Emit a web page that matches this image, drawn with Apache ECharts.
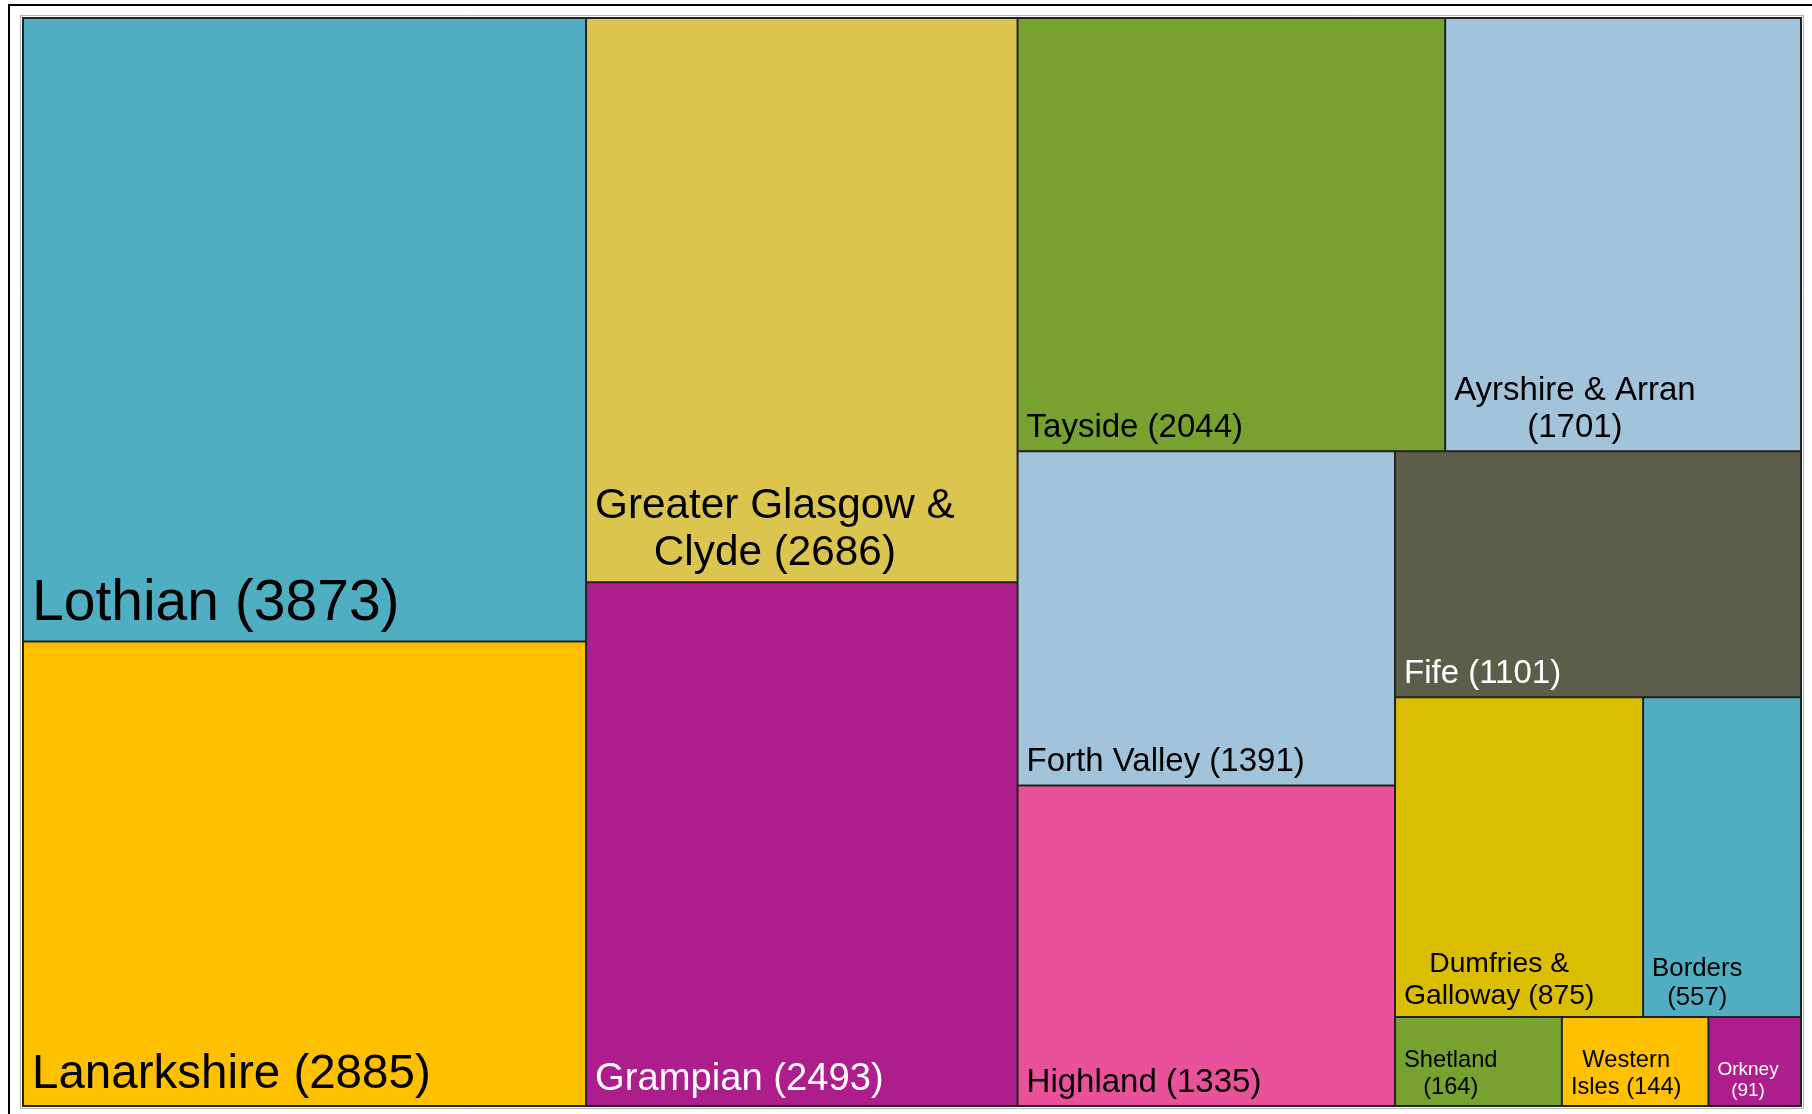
<!DOCTYPE html>
<html>
<head>
<meta charset="utf-8">
<title>Scottish health boards treemap</title>
<script src="https://cdn.jsdelivr.net/npm/echarts@6/dist/echarts.min.js"></script>
<style>
  html, body { margin: 0; padding: 0; background: #fff; }
  #main { width: 1812px; height: 1114px; }
</style>
</head>
<body>
<div id="main"></div>
<script>
// data
var regions = ['Lothian', 'Lanarkshire', 'Greater Glasgow & Clyde', 'Grampian', 'Tayside',
  'Ayrshire & Arran', 'Forth Valley', 'Highland', 'Fife', 'Dumfries & Galloway',
  'Borders', 'Shetland', 'Western Isles', 'Orkney'];
var counts = [3873, 2885, 2686, 2493, 2044, 1701, 1391, 1335, 1101, 875, 557, 164, 144, 91];

// styling: fill, label colour, label size, words on the first label line (0 = one line)
var fills = ['#4FAEC2', '#FFC000', '#DBC54E', '#AD1E8C', '#78A22F', '#A2C4DA', '#A2C4DA',
  '#EA519B', '#5C5E4A', '#DBBE00', '#4FAEC2', '#78A22F', '#FFC000', '#AD1E8C'];
var textColors = ['#000', '#000', '#000', '#fff', '#000', '#000', '#000',
  '#000', '#fff', '#000', '#000', '#000', '#000', '#fff'];
var labelSize = [57, 47.5, 42.3, 38.2, 33, 33, 33, 33, 33, 28.3, 25.8, 23.7, 23.7, 19];
var breaks = [0, 0, 3, 0, 0, 3, 0, 0, 0, 2, 1, 1, 1, 1];

var FONT = 'Liberation Sans';
var ctx = document.createElement('canvas').getContext('2d');

// widest line, so centred lines still start at the left of the box
function blockWidth(text, size) {
  ctx.font = size + 'px "' + FONT + '"';
  return Math.max.apply(null, text.split('\n').map(function (s) {
    return ctx.measureText(s).width;
  }));
}

var data = regions.map(function (name, i) {
  var words = (name + ' (' + counts[i] + ')').split(' ');
  var text = breaks[i]
    ? words.slice(0, breaks[i]).join(' ') + '\n' + words.slice(breaks[i]).join(' ')
    : words.join(' ');
  return {
    name: name,
    value: counts[i],
    itemStyle: { color: fills[i] },
    label: {
      formatter: text,
      fontSize: labelSize[i],
      lineHeight: Math.round(labelSize[i] * 1.12),
      color: textColors[i],
      offset: [blockWidth(text, labelSize[i]) / 2, 4]
    }
  };
});

var myChart = echarts.init(document.getElementById('main'));

var option = {
  animation: false,
  graphic: [{
    type: 'rect',
    shape: { x: 9, y: 5, width: 2000, height: 2000 },
    style: { fill: 'none', stroke: '#000', lineWidth: 2 },
    silent: true
  }, {
    type: 'rect',
    shape: { x: 20.5, y: 15.5, width: 1783, height: 1093 },
    style: { fill: 'none', stroke: '#b5b5b5', lineWidth: 1 },
    silent: true
  }],
  series: [{
    type: 'treemap',
    left: 22,
    top: 17,
    width: 1780,
    height: 1090,
    squareRatio: 1,
    roam: false,
    nodeClick: false,
    breadcrumb: { show: false },
    upperLabel: { show: false },
    emphasis: { disabled: true },
    itemStyle: { borderColor: '#222', borderWidth: 1, gapWidth: 0 },
    label: {
      show: true,
      position: 'insideBottomLeft',
      distance: 8,
      padding: 0,
      align: 'center',
      fontFamily: FONT,
      textBorderWidth: 0,
      textShadowBlur: 0
    },
    data: data
  }]
};

myChart.setOption(option);
</script>
</body>
</html>
